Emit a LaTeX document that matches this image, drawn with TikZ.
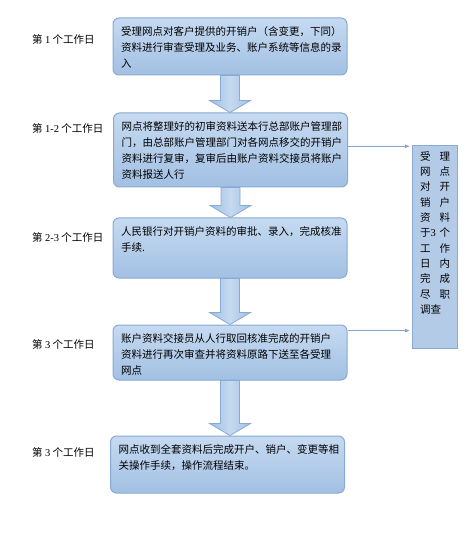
\documentclass[tikz,border=0pt]{standalone}
\usepackage{fontspec}
\setmainfont{Liberation Serif}
\newfontfamily\cjk{Noto Sans CJK SC}
\usetikzlibrary{calc}
\usetikzlibrary{arrows.meta}

\definecolor{boxtop}{HTML}{C6DAF1}
\definecolor{boxbot}{HTML}{A2C0E3}
\definecolor{boxline}{HTML}{88AAD3}
\definecolor{sidefill}{HTML}{B4CBE8}
\definecolor{linkline}{HTML}{86A4C9}

\tikzset{
    stepbox/.style={draw=boxline, line width=1pt, rounded corners=6pt,
        top color=boxtop, bottom color=boxbot,
        inner xsep=8pt, inner ysep=8.5pt,
        font=\cjk\fontsize{10.5}{16.2}\selectfont},
    daylabel/.style={anchor=west, inner sep=0pt,
        font=\cjk\fontsize{10.5}{12}\selectfont},
    sidebox/.style={draw=boxline, line width=1pt, fill=sidefill,
        anchor=north west, inner xsep=7.5pt, inner ysep=6pt,
        font=\cjk\fontsize{10.5}{15.3}\selectfont},
    link/.style={draw=linkline, line width=0.8pt,
        -{Latex[length=5pt,width=4pt]}, shorten >=2pt},
    bigarrow/.style={draw=boxline, line width=0.8pt,
        left color=boxbot, right color=boxbot, middle color=boxtop},
}

% text of a step, set from the top left of its box
\newcommand\steptext[2]{\parbox[t][#1][t]{218pt}{#2}}
% broad arrow from the bottom of one step to the top of the next
\newcommand\flowarrow[2]{%
    \path[bigarrow] let \p1=(#1.south), \p2=(#2.north) in
        (\x1-9.5pt,\y1) -- (\x1-9.5pt,\y2+12pt) -- (\x1-20.5pt,\y2+12pt)
        -- (\x1,\y2) -- (\x1+20.5pt,\y2+12pt) -- (\x1+9.5pt,\y2+12pt)
        -- (\x1+9.5pt,\y1) -- cycle;
}

\begin{document}
\begin{tikzpicture}[x=1pt, y=-1pt]
    \useasboundingbox (0,0) rectangle (474,534);

    % steps
    \node[stepbox] (s1) at (230,46.5) {\steptext{40pt}{%
        受理网点对客户提供的开销户（含变更，下同）\\
        资料进行审查受理及业务、账户系统等信息的录\\
        入}};
    \node[stepbox] (s2) at (230.5,150) {\steptext{57pt}{%
        网点将整理好的初审资料送本行总部账户管理部\\
        门，由总部账户管理部门对各网点移交的开销户\\
        资料进行复审，复审后由账户资料交接员将账户\\
        资料报送人行}};
    \node[stepbox] (s3) at (230,248) {\steptext{43pt}{%
        人民银行对开销户资料的审批、录入，完成核准\\
        手续.}};
    \node[stepbox] (s4) at (230,352.5) {\steptext{38pt}{%
        账户资料交接员从人行取回核准完成的开销户\\
        资料进行再次审查并将资料原路下送至各受理\\
        网点}};
    \node[stepbox] (s5) at (227.5,464.5) {\steptext{40pt}{%
        网点收到全套资料后完成开户、销户、变更等相\\
        关操作手续，操作流程结束。}};

    % working days
    \node[daylabel] (d1) at (32,39)  {第 \textrm{1} 个工作日};
    \node[daylabel] (d2) at (32,128) {第 \textrm{1-2} 个工作日};
    \node[daylabel] (d3) at (32,237) {第 \textrm{2-3} 个工作日};
    \node[daylabel] (d4) at (32,344) {第 \textrm{3} 个工作日};
    \node[daylabel] (d5) at (32,452) {第 \textrm{3} 个工作日};

    % due diligence box on the right
    \node[sidebox] (chk) at (412,145) {\parbox[t][191pt][t]{30pt}{%
        受\hfill 理\\ 网\hfill 点\\ 对\hfill 开\\ 销\hfill 户\\
        资\hfill 料\\ 于\textrm{3}\hfill 个\\ 工\hfill 作\\ 日\hfill 内\\
        完\hfill 成\\ 尽\hfill 职\\ 调查}};

    \flowarrow{s1}{s2}
    \flowarrow{s2}{s3}
    \flowarrow{s3}{s4}
    \flowarrow{s4}{s5}

    \coordinate (s2out) at ($(s2.north east)!0.45!(s2.south east)$);
    \coordinate (s4out) at ($(s4.north east)!0.11!(s4.south east)$);
    \draw[link] (s2out) -- (s2out -| chk.west);
    \draw[link] (s4out) -- (s4out -| chk.west);
\end{tikzpicture}
\end{document}
